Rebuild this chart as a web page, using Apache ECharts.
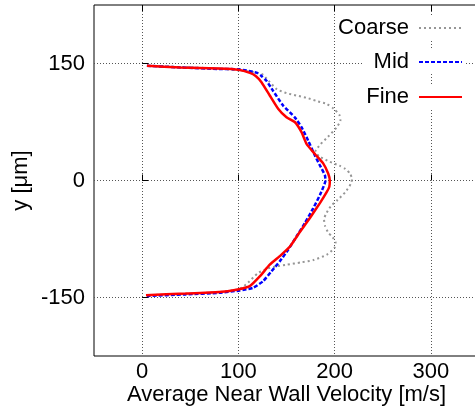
<!DOCTYPE html>
<html>
<head>
<meta charset="utf-8">
<script src="https://cdn.jsdelivr.net/npm/echarts@6/dist/echarts.min.js"></script>
<style>
  html, body { margin: 0; padding: 0; background: #fff; }
  #chart { width: 475px; height: 410px; }
</style>
</head>
<body>
<div id="chart"></div>
<script>
// tick values
const xTicks = [0, 100, 200, 300];
const yTicks = [-150, 0, 150];

// Fine mesh
const fineVel = [5, 40, 80, 100, 112, 118, 124, 132.6, 141.3, 150, 158.6, 165.6, 170.8, 179.5, 188.1, 193.3, 195, 194.5, 191.7, 184.7, 174.3, 163.9, 153.4, 143, 132.6, 122.2, 111.8, 98, 80, 45, 4];
const fineY = [147, 145, 143.5, 142, 138, 134, 126, 109, 92, 81, 75, 62, 47, 34, 22, 9, 0, -8, -15, -29, -48, -66, -85, -97, -108, -123, -135.5, -140, -143, -145, -147];

// Mid mesh
const midVel = [5, 40, 80, 101, 118.8, 124, 129.2, 136, 146.5, 158.6, 165.6, 172.5, 179.5, 184.7, 189.9, 190.5, 184.7, 177.7, 169, 160.4, 151.7, 143, 134.4, 125.6, 115.2, 101.4, 80, 45, 5];
const midY = [147, 145, 143, 142.5, 138.3, 134, 127.8, 115, 96, 81, 68.3, 51.3, 32, 19.4, 6.8, 0, -18.7, -35.7, -54.8, -71.8, -88.8, -103.7, -116.4, -129.2, -137.6, -141, -144, -146, -148];

// Coarse mesh
const coarseVel = [5, 40, 80, 101, 116, 125, 132, 140, 150, 160, 171, 181, 192, 199, 205, 206, 202, 193, 185, 180, 184, 195, 205, 211, 216, 218, 217, 211, 203, 196, 191, 189, 190, 193, 198, 201, 200, 192, 178, 165, 150, 140, 130, 120, 110, 101, 80, 45, 5];
const coarseY = [147, 145.5, 143.5, 141, 139, 136, 127, 117, 112, 109, 106, 102, 98, 92, 84, 77, 68, 56, 46, 37, 31, 24, 19, 15, 9, 2, -4, -15, -25, -33, -43, -50, -58, -66, -73, -79, -86, -95, -102, -105, -108, -110, -113, -119, -131, -139, -143, -145.5, -147];

const zip = (xs, ys) => xs.map((x, i) => [x, ys[i]]);

const font = 'Liberation Sans, Arial, sans-serif';
const gridLine = { show: true, lineStyle: { color: '#555', type: [1, 2], width: 1 } };
const tick = { show: true, inside: true, length: 6, lineStyle: { color: '#000' } };

const chart = echarts.init(document.getElementById('chart'));

function legendRow(name, top, padLeft) {
  return {
    data: [name],
    orient: 'vertical',
    align: 'right',
    right: 10,
    top: top,
    itemWidth: 43,
    itemHeight: 14,
    padding: [0, 2, 0, padLeft],
    backgroundColor: '#fff',
    selectedMode: false,
    itemStyle: { opacity: 0 },
    textStyle: { fontFamily: font, fontSize: 22, color: '#000', lineHeight: 24, padding: [0, 5, 0, 0] }
  };
}

const option = {
  animation: false,
  grid: {
    left: 94, right: -4, top: 5, bottom: 54,
    outerBoundsMode: 'none',
    show: true, borderColor: '#000', borderWidth: 1
  },
  legend: [
    legendRow('Coarse', 16, 0),
    legendRow('Mid', 50, 10),
    legendRow('Fine', 85, 10)
  ],
  xAxis: [{
    type: 'value', min: -50, max: 350, interval: 50,
    name: 'Average Near Wall Velocity [m/s]',
    nameLocation: 'middle', nameGap: 28, nameMoveOverlap: false,
    nameTextStyle: { fontFamily: font, fontSize: 22, color: '#000' },
    axisLine: { show: false },
    axisTick: Object.assign({ customValues: xTicks }, tick),
    axisLabel: { customValues: xTicks, fontFamily: font, fontSize: 22, color: '#000', margin: 5 },
    splitLine: gridLine
  }, {
    type: 'value', min: -50, max: 350, interval: 50, position: 'top',
    axisLine: { show: false },
    axisTick: Object.assign({ customValues: xTicks }, tick),
    axisLabel: { show: false },
    splitLine: { show: false }
  }],
  yAxis: {
    type: 'value', min: -225, max: 225, interval: 75,
    name: 'y [μm]',
    nameLocation: 'middle', nameGap: 62, nameRotate: 90, nameMoveOverlap: false,
    nameTextStyle: { fontFamily: font, fontSize: 22, color: '#000' },
    axisLine: { show: false },
    axisTick: Object.assign({ customValues: yTicks }, tick),
    axisLabel: { customValues: yTicks, fontFamily: font, fontSize: 22, color: '#000', margin: 9 },
    splitLine: gridLine
  },
  series: [{
    name: 'Coarse', type: 'line', symbol: 'none', smooth: 0.2,
    data: zip(coarseVel, coarseY),
    lineStyle: { color: '#969696', width: 2, type: [2, 3] },
    itemStyle: { color: '#969696' }
  }, {
    name: 'Mid', type: 'line', symbol: 'none', smooth: 0.15,
    data: zip(midVel, midY),
    lineStyle: { color: '#0000ff', width: 2.5, type: [4, 2] },
    itemStyle: { color: '#0000ff' }
  }, {
    name: 'Fine', type: 'line', symbol: 'none', smooth: 0.15,
    data: zip(fineVel, fineY),
    lineStyle: { color: '#ff0000', width: 2.5 },
    itemStyle: { color: '#ff0000' }
  }]
};

chart.setOption(option);
</script>
</body>
</html>
